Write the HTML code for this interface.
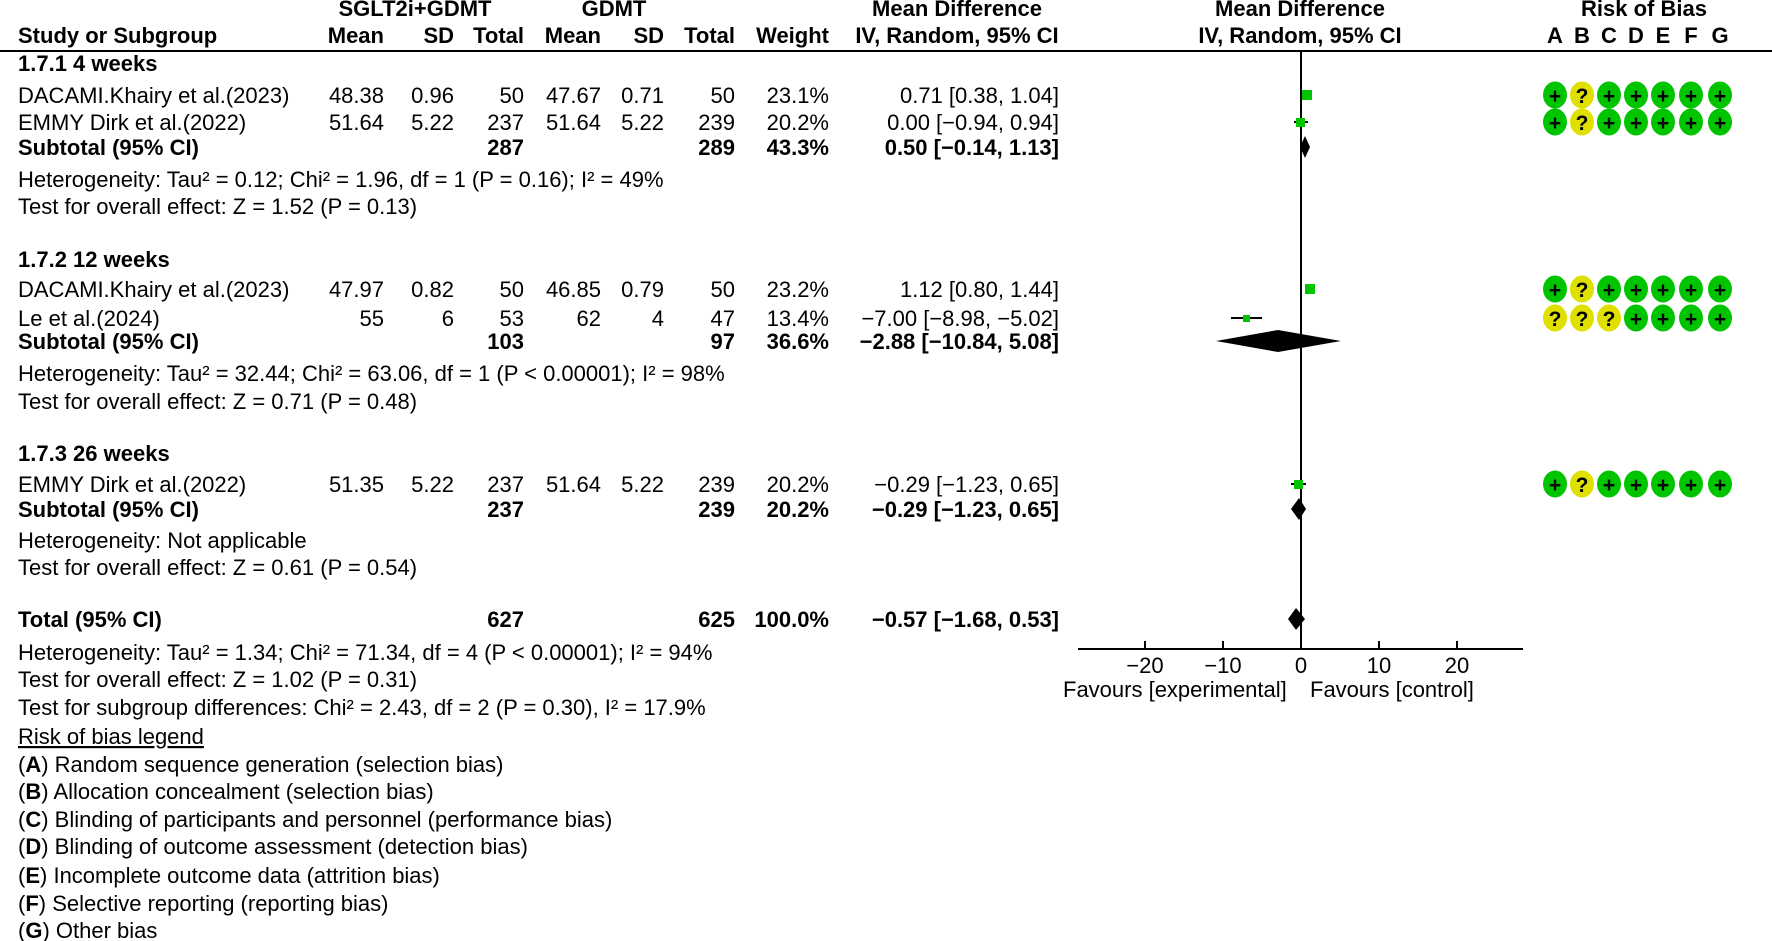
<!DOCTYPE html>
<html><head><meta charset="utf-8"><style>
html,body{margin:0;padding:0;background:#fff;}
svg{display:block;font-family:"Liberation Sans",sans-serif;font-size:22px;}
.b{font-weight:bold;}
</style></head><body>
<svg width="1772" height="941" viewBox="0 0 1772 941" xmlns="http://www.w3.org/2000/svg">
<g class="b">
<text x="415" y="16" text-anchor="middle">SGLT2i+GDMT</text>
<text x="614" y="16" text-anchor="middle">GDMT</text>
<text x="957" y="16" text-anchor="middle">Mean Difference</text>
<text x="1300" y="16" text-anchor="middle">Mean Difference</text>
<text x="1644" y="16" text-anchor="middle">Risk of Bias</text>
<text x="18" y="43">Study or Subgroup</text>
<text x="384" y="43" text-anchor="end">Mean</text>
<text x="454" y="43" text-anchor="end">SD</text>
<text x="524" y="43" text-anchor="end">Total</text>
<text x="601" y="43" text-anchor="end">Mean</text>
<text x="664" y="43" text-anchor="end">SD</text>
<text x="735" y="43" text-anchor="end">Total</text>
<text x="829" y="43" text-anchor="end">Weight</text>
<text x="957" y="43" text-anchor="middle">IV, Random, 95% CI</text>
<text x="1300" y="43" text-anchor="middle">IV, Random, 95% CI</text>
<text x="1555" y="43" text-anchor="middle">A</text>
<text x="1582" y="43" text-anchor="middle">B</text>
<text x="1609" y="43" text-anchor="middle">C</text>
<text x="1636" y="43" text-anchor="middle">D</text>
<text x="1663" y="43" text-anchor="middle">E</text>
<text x="1691" y="43" text-anchor="middle">F</text>
<text x="1720" y="43" text-anchor="middle">G</text>
</g>
<line x1="0" y1="51" x2="1772" y2="51" stroke="#000" stroke-width="2"/>

<g>
<text class="b" x="18" y="71">1.7.1 4 weeks</text>
<text x="18" y="103">DACAMI.Khairy et al.(2023)</text>
<text x="384" y="103" text-anchor="end">48.38</text><text x="454" y="103" text-anchor="end">0.96</text><text x="524" y="103" text-anchor="end">50</text>
<text x="601" y="103" text-anchor="end">47.67</text><text x="664" y="103" text-anchor="end">0.71</text><text x="735" y="103" text-anchor="end">50</text>
<text x="829" y="103" text-anchor="end">23.1%</text><text x="1059" y="103" text-anchor="end">0.71 [0.38, 1.04]</text>
<text x="18" y="130">EMMY Dirk et al.(2022)</text>
<text x="384" y="130" text-anchor="end">51.64</text><text x="454" y="130" text-anchor="end">5.22</text><text x="524" y="130" text-anchor="end">237</text>
<text x="601" y="130" text-anchor="end">51.64</text><text x="664" y="130" text-anchor="end">5.22</text><text x="735" y="130" text-anchor="end">239</text>
<text x="829" y="130" text-anchor="end">20.2%</text><text x="1059" y="130" text-anchor="end">0.00 [−0.94, 0.94]</text>
<g class="b"><text x="18" y="155">Subtotal (95% CI)</text><text x="524" y="155" text-anchor="end">287</text><text x="735" y="155" text-anchor="end">289</text><text x="829" y="155" text-anchor="end">43.3%</text><text x="1059" y="155" text-anchor="end">0.50 [−0.14, 1.13]</text></g>
<text x="18" y="187">Heterogeneity: Tau² = 0.12; Chi² = 1.96, df = 1 (P = 0.16); I² = 49%</text>
<text x="18" y="214">Test for overall effect: Z = 1.52 (P = 0.13)</text>

<text class="b" x="18" y="267">1.7.2 12 weeks</text>
<text x="18" y="297">DACAMI.Khairy et al.(2023)</text>
<text x="384" y="297" text-anchor="end">47.97</text><text x="454" y="297" text-anchor="end">0.82</text><text x="524" y="297" text-anchor="end">50</text>
<text x="601" y="297" text-anchor="end">46.85</text><text x="664" y="297" text-anchor="end">0.79</text><text x="735" y="297" text-anchor="end">50</text>
<text x="829" y="297" text-anchor="end">23.2%</text><text x="1059" y="297" text-anchor="end">1.12 [0.80, 1.44]</text>
<text x="18" y="326">Le et al.(2024)</text>
<text x="384" y="326" text-anchor="end">55</text><text x="454" y="326" text-anchor="end">6</text><text x="524" y="326" text-anchor="end">53</text>
<text x="601" y="326" text-anchor="end">62</text><text x="664" y="326" text-anchor="end">4</text><text x="735" y="326" text-anchor="end">47</text>
<text x="829" y="326" text-anchor="end">13.4%</text><text x="1059" y="326" text-anchor="end">−7.00 [−8.98, −5.02]</text>
<g class="b"><text x="18" y="349">Subtotal (95% CI)</text><text x="524" y="349" text-anchor="end">103</text><text x="735" y="349" text-anchor="end">97</text><text x="829" y="349" text-anchor="end">36.6%</text><text x="1059" y="349" text-anchor="end">−2.88 [−10.84, 5.08]</text></g>
<text x="18" y="381">Heterogeneity: Tau² = 32.44; Chi² = 63.06, df = 1 (P &lt; 0.00001); I² = 98%</text>
<text x="18" y="409">Test for overall effect: Z = 0.71 (P = 0.48)</text>

<text class="b" x="18" y="461">1.7.3 26 weeks</text>
<text x="18" y="492">EMMY Dirk et al.(2022)</text>
<text x="384" y="492" text-anchor="end">51.35</text><text x="454" y="492" text-anchor="end">5.22</text><text x="524" y="492" text-anchor="end">237</text>
<text x="601" y="492" text-anchor="end">51.64</text><text x="664" y="492" text-anchor="end">5.22</text><text x="735" y="492" text-anchor="end">239</text>
<text x="829" y="492" text-anchor="end">20.2%</text><text x="1059" y="492" text-anchor="end">−0.29 [−1.23, 0.65]</text>
<g class="b"><text x="18" y="517">Subtotal (95% CI)</text><text x="524" y="517" text-anchor="end">237</text><text x="735" y="517" text-anchor="end">239</text><text x="829" y="517" text-anchor="end">20.2%</text><text x="1059" y="517" text-anchor="end">−0.29 [−1.23, 0.65]</text></g>
<text x="18" y="548">Heterogeneity: Not applicable</text>
<text x="18" y="575">Test for overall effect: Z = 0.61 (P = 0.54)</text>

<g class="b"><text x="18" y="627">Total (95% CI)</text><text x="524" y="627" text-anchor="end">627</text><text x="735" y="627" text-anchor="end">625</text><text x="829" y="627" text-anchor="end">100.0%</text><text x="1059" y="627" text-anchor="end">−0.57 [−1.68, 0.53]</text></g>
<text x="18" y="660">Heterogeneity: Tau² = 1.34; Chi² = 71.34, df = 4 (P &lt; 0.00001); I² = 94%</text>
<text x="18" y="687">Test for overall effect: Z = 1.02 (P = 0.31)</text>
<text x="18" y="715">Test for subgroup differences: Chi² = 2.43, df = 2 (P = 0.30), I² = 17.9%</text>
<text x="18" y="744" text-decoration="underline">Risk of bias legend</text>
<text x="18" y="772">(<tspan class="b">A</tspan>) Random sequence generation (selection bias)</text>
<text x="18" y="799">(<tspan class="b">B</tspan>) Allocation concealment (selection bias)</text>
<text x="18" y="827">(<tspan class="b">C</tspan>) Blinding of participants and personnel (performance bias)</text>
<text x="18" y="854">(<tspan class="b">D</tspan>) Blinding of outcome assessment (detection bias)</text>
<text x="18" y="883">(<tspan class="b">E</tspan>) Incomplete outcome data (attrition bias)</text>
<text x="18" y="911">(<tspan class="b">F</tspan>) Selective reporting (reporting bias)</text>
<text x="18" y="938">(<tspan class="b">G</tspan>) Other bias</text>
</g>

<line x1="1301" y1="51" x2="1301" y2="649" stroke="#000" stroke-width="2"/>
<line x1="1078" y1="649" x2="1523" y2="649" stroke="#000" stroke-width="2"/>
<g stroke="#000" stroke-width="2">
<line x1="1145" y1="641" x2="1145" y2="649"/><line x1="1223" y1="641" x2="1223" y2="649"/>
<line x1="1301" y1="641" x2="1301" y2="649"/><line x1="1379" y1="641" x2="1379" y2="649"/>
<line x1="1457" y1="641" x2="1457" y2="649"/>
</g>
<text x="1145" y="673" text-anchor="middle">−20</text>
<text x="1223" y="673" text-anchor="middle">−10</text>
<text x="1301" y="673" text-anchor="middle">0</text>
<text x="1379" y="673" text-anchor="middle">10</text>
<text x="1457" y="673" text-anchor="middle">20</text>
<text x="1063" y="697">Favours [experimental]</text>
<text x="1310" y="697">Favours [control]</text>

<g stroke="#000" stroke-width="2">
<line x1="1304" y1="95" x2="1309" y2="95"/>
<line x1="1294" y1="122" x2="1308" y2="122"/>
<line x1="1307" y1="289" x2="1312" y2="289"/>
<line x1="1231" y1="318" x2="1262" y2="318"/>
<line x1="1291" y1="484" x2="1306" y2="484"/>
</g>
<g fill="#00c400">
<rect x="1302" y="90" width="10" height="10"/>
<rect x="1296" y="118" width="9" height="9"/>
<rect x="1305" y="284" width="10" height="10"/>
<rect x="1243" y="315" width="7" height="7"/>
<rect x="1294" y="480" width="9" height="9"/>
</g>
<g fill="#000">
<polygon points="1300,147 1305,136 1310,147 1305,158"/>
<polygon points="1216,341 1278,330 1341,341 1278,352"/>
<polygon points="1291,509 1299,498 1306,509 1299,520"/>
<polygon points="1288,619 1296,608 1305,619 1296,630"/>
</g>

<g font-weight="bold" font-size="21" text-anchor="middle">
<g transform="translate(0,95)">
<ellipse cx="1555" cy="0" rx="12" ry="13.5" fill="#00c400"/><ellipse cx="1582" cy="0" rx="12" ry="13.5" fill="#e0e000"/>
<ellipse cx="1609" cy="0" rx="12" ry="13.5" fill="#00c400"/><ellipse cx="1636" cy="0" rx="12" ry="13.5" fill="#00c400"/>
<ellipse cx="1663" cy="0" rx="12" ry="13.5" fill="#00c400"/><ellipse cx="1691" cy="0" rx="12" ry="13.5" fill="#00c400"/>
<ellipse cx="1720" cy="0" rx="12" ry="13.5" fill="#00c400"/>
<text x="1555" y="8">+</text><text x="1582" y="8">?</text><text x="1609" y="8">+</text><text x="1636" y="8">+</text><text x="1663" y="8">+</text><text x="1691" y="8">+</text><text x="1720" y="8">+</text>
</g>
<g transform="translate(0,122)">
<ellipse cx="1555" cy="0" rx="12" ry="13.5" fill="#00c400"/><ellipse cx="1582" cy="0" rx="12" ry="13.5" fill="#e0e000"/>
<ellipse cx="1609" cy="0" rx="12" ry="13.5" fill="#00c400"/><ellipse cx="1636" cy="0" rx="12" ry="13.5" fill="#00c400"/>
<ellipse cx="1663" cy="0" rx="12" ry="13.5" fill="#00c400"/><ellipse cx="1691" cy="0" rx="12" ry="13.5" fill="#00c400"/>
<ellipse cx="1720" cy="0" rx="12" ry="13.5" fill="#00c400"/>
<text x="1555" y="8">+</text><text x="1582" y="8">?</text><text x="1609" y="8">+</text><text x="1636" y="8">+</text><text x="1663" y="8">+</text><text x="1691" y="8">+</text><text x="1720" y="8">+</text>
</g>
<g transform="translate(0,289)">
<ellipse cx="1555" cy="0" rx="12" ry="13.5" fill="#00c400"/><ellipse cx="1582" cy="0" rx="12" ry="13.5" fill="#e0e000"/>
<ellipse cx="1609" cy="0" rx="12" ry="13.5" fill="#00c400"/><ellipse cx="1636" cy="0" rx="12" ry="13.5" fill="#00c400"/>
<ellipse cx="1663" cy="0" rx="12" ry="13.5" fill="#00c400"/><ellipse cx="1691" cy="0" rx="12" ry="13.5" fill="#00c400"/>
<ellipse cx="1720" cy="0" rx="12" ry="13.5" fill="#00c400"/>
<text x="1555" y="8">+</text><text x="1582" y="8">?</text><text x="1609" y="8">+</text><text x="1636" y="8">+</text><text x="1663" y="8">+</text><text x="1691" y="8">+</text><text x="1720" y="8">+</text>
</g>
<g transform="translate(0,318)">
<ellipse cx="1555" cy="0" rx="12" ry="13.5" fill="#e0e000"/><ellipse cx="1582" cy="0" rx="12" ry="13.5" fill="#e0e000"/>
<ellipse cx="1609" cy="0" rx="12" ry="13.5" fill="#e0e000"/><ellipse cx="1636" cy="0" rx="12" ry="13.5" fill="#00c400"/>
<ellipse cx="1663" cy="0" rx="12" ry="13.5" fill="#00c400"/><ellipse cx="1691" cy="0" rx="12" ry="13.5" fill="#00c400"/>
<ellipse cx="1720" cy="0" rx="12" ry="13.5" fill="#00c400"/>
<text x="1555" y="8">?</text><text x="1582" y="8">?</text><text x="1609" y="8">?</text><text x="1636" y="8">+</text><text x="1663" y="8">+</text><text x="1691" y="8">+</text><text x="1720" y="8">+</text>
</g>
<g transform="translate(0,484)">
<ellipse cx="1555" cy="0" rx="12" ry="13.5" fill="#00c400"/><ellipse cx="1582" cy="0" rx="12" ry="13.5" fill="#e0e000"/>
<ellipse cx="1609" cy="0" rx="12" ry="13.5" fill="#00c400"/><ellipse cx="1636" cy="0" rx="12" ry="13.5" fill="#00c400"/>
<ellipse cx="1663" cy="0" rx="12" ry="13.5" fill="#00c400"/><ellipse cx="1691" cy="0" rx="12" ry="13.5" fill="#00c400"/>
<ellipse cx="1720" cy="0" rx="12" ry="13.5" fill="#00c400"/>
<text x="1555" y="8">+</text><text x="1582" y="8">?</text><text x="1609" y="8">+</text><text x="1636" y="8">+</text><text x="1663" y="8">+</text><text x="1691" y="8">+</text><text x="1720" y="8">+</text>
</g>
</g>
</svg>
</body></html>
